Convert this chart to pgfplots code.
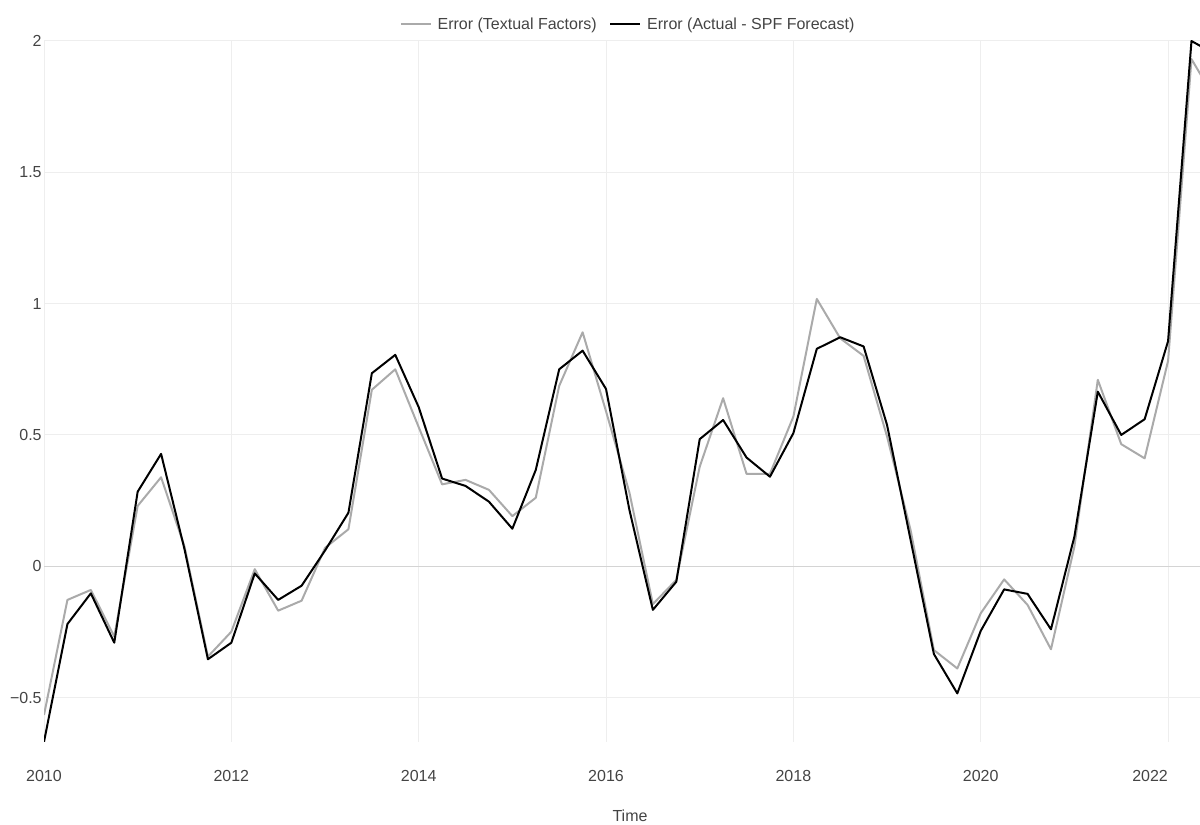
\documentclass[border=0pt]{standalone}
\usepackage{fontspec}
\setmainfont{Liberation Sans}
\usepackage{pgfplots}
\pgfplotsset{compat=1.18}
\definecolor{txt}{HTML}{444444}
\definecolor{gridc}{HTML}{EEEEEE}
\definecolor{zeroc}{HTML}{D4D4D4}
\definecolor{textual}{HTML}{AAAAAA}

\pgfplotstableread{
x       textual actual
2010.00 -0.566  -0.668
2010.25 -0.128  -0.220
2010.50 -0.090  -0.103
2010.75 -0.268  -0.291
2011.00  0.230   0.284
2011.25  0.339   0.428
2011.50  0.075   0.065
2011.75 -0.344  -0.354
2012.00 -0.249  -0.291
2012.25 -0.011  -0.027
2012.50 -0.169  -0.128
2012.75 -0.131  -0.074
2013.00  0.070   0.060
2013.25  0.141   0.204
2013.50  0.672   0.735
2013.75  0.750   0.805
2014.00  0.530   0.606
2014.25  0.312   0.334
2014.50  0.329   0.306
2014.75  0.291   0.246
2015.00  0.191   0.143
2015.25  0.261   0.367
2015.50  0.687   0.750
2015.75  0.891   0.821
2016.00  0.590   0.675
2016.25  0.280   0.214
2016.50 -0.144  -0.166
2016.75 -0.052  -0.059
2017.00  0.379   0.484
2017.25  0.640   0.557
2017.50  0.352   0.414
2017.75  0.352   0.341
2018.00  0.570   0.507
2018.25  1.018   0.828
2018.50  0.868   0.872
2018.75  0.801   0.837
2019.00  0.494   0.538
2019.25  0.140   0.103
2019.50 -0.319  -0.334
2019.75 -0.389  -0.484
2020.00 -0.179  -0.246
2020.25 -0.050  -0.088
2020.50 -0.147  -0.105
2020.75 -0.316  -0.240
2021.00  0.075   0.113
2021.25  0.710   0.665
2021.50  0.465   0.500
2021.75  0.411   0.560
2022.00  0.782   0.857
2022.25  1.931   2.000
2022.50  1.780   1.950
}\errtable

\begin{document}
\begin{tikzpicture}[font=\fontsize{8bp}{9.6bp}\selectfont, every node/.style={text=txt}]
\useasboundingbox (-22bp,-41.5bp) rectangle (578bp,371bp);
\begin{axis}[
  scale only axis, width=578bp, height=350.5bp,
  xmin=2010, xmax=2022.341, ymin=-0.669, ymax=2.0,
  axis line style={draw=none}, tick style={draw=none},
  grid=major, major grid style={color=gridc, line width=0.5bp},
  xtick={2010,2012,2014,2016,2018,2020},
  xticklabels={2010,2012,2014,2016,2018,2020},
  extra x ticks={2022}, extra x tick labels={2022},
  extra x tick style={grid=major, xticklabel style={xshift=-9bp}},
  ytick={-0.5,0.5,1,1.5,2},
  yticklabels={−0.5,0.5,1,1.5,2},
  extra y ticks={0}, extra y tick labels={0},
  extra y tick style={grid=major, major grid style={color=zeroc, line width=0.5bp}},
  xticklabel style={anchor=center, inner sep=0pt, yshift=-17bp, text=txt},
  yticklabel style={anchor=east, inner sep=0pt, xshift=-1bp, text=txt},
  line join=round,
]
\addplot[textual, line width=1bp, no marks] table[x=x, y=textual] {\errtable};
\addplot[black, line width=1bp, no marks] table[x=x, y=actual] {\errtable};
\end{axis}
% legend and axis title
\draw[textual, line width=1bp] (178.4bp,359bp) -- (193.4bp,359bp);
\node[anchor=west, inner sep=0pt] at (196.6bp,358.5bp) {Error (Textual Factors)};
\draw[black, line width=1bp] (283bp,359bp) -- (298bp,359bp);
\node[anchor=west, inner sep=0pt] at (301.4bp,358.5bp) {Error (Actual - SPF Forecast)};
\node[inner sep=0pt] at (293bp,-37bp) {Time};
\end{tikzpicture}
\end{document}
